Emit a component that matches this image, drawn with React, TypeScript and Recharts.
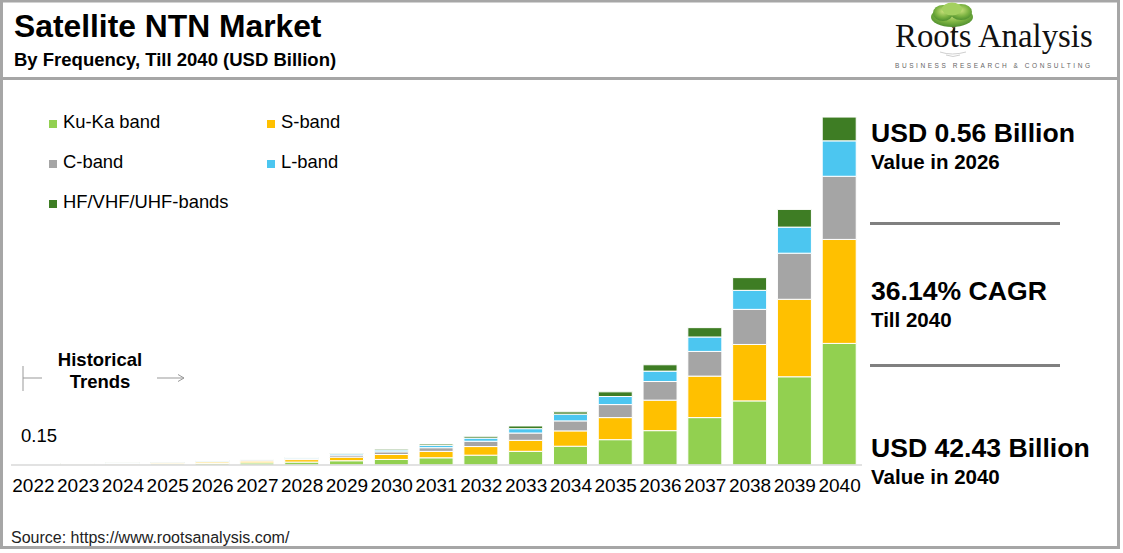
import React from 'react';
import { BarChart, Bar, XAxis, YAxis } from 'recharts';

const years = ['2022', '2023', '2024', '2025', '2026', '2027', '2028', '2029', '2030', '2031', '2032', '2033', '2034', '2035', '2036', '2037', '2038', '2039', '2040'];
const kuKa = [0.05, 0.07, 0.09, 0.13, 0.2, 0.26, 0.36, 0.52, 0.68, 0.88, 1.2, 1.67, 2.29, 3.09, 4.19, 5.78, 7.82, 10.76, 14.83];
const sBand = [0.045, 0.06, 0.08, 0.11, 0.17, 0.22, 0.3, 0.44, 0.6, 0.78, 1.05, 1.34, 1.87, 2.69, 3.72, 5.06, 6.88, 9.45, 12.68];
const cBand = [0.03, 0.04, 0.05, 0.07, 0.1, 0.13, 0.17, 0.25, 0.33, 0.45, 0.65, 0.89, 1.22, 1.59, 2.27, 3.01, 4.28, 5.62, 7.7];
const lBand = [0.015, 0.02, 0.03, 0.04, 0.06, 0.07, 0.1, 0.16, 0.22, 0.28, 0.38, 0.53, 0.82, 0.98, 1.27, 1.76, 2.32, 3.18, 4.32];
const hfBands = [0.01, 0.01, 0.02, 0.02, 0.03, 0.04, 0.05, 0.08, 0.12, 0.17, 0.22, 0.33, 0.28, 0.57, 0.77, 1.14, 1.55, 2.16, 2.9];

const seriesKeys = ['kuKa', 'sBand', 'cBand', 'lBand', 'hfBands'];
const seriesNames = ['Ku-Ka band', 'S-band', 'C-band', 'L-band', 'HF/VHF/UHF-bands'];
const seriesColors = ['#92D050', '#FFC000', '#A5A5A5', '#4CC6F0', '#3E7D24'];

const firstValueLabel = '0.15';
const title = 'Satellite NTN Market';
const subtitle = 'By Frequency, Till 2040 (USD Billion)';
const highlights = [
  { big: 'USD 0.56 Billion', small: 'Value in 2026' },
  { big: '36.14% CAGR', small: 'Till 2040' },
  { big: 'USD 42.43 Billion', small: 'Value in 2040' },
];

const data = years.map((year, i) => ({
  year,
  kuKa: kuKa[i],
  sBand: sBand[i],
  cBand: cBand[i],
  lBand: lBand[i],
  hfBands: hfBands[i],
}));

const FONT = '"Liberation Sans", Arial, sans-serif';

const legendOrder = [0, 1, 2, 3, 4];
const legendPos = [
  { x: 49, y: 128 },
  { x: 267, y: 128 },
  { x: 49, y: 168 },
  { x: 267, y: 168 },
  { x: 49, y: 208 },
];

const highlightY = [141.5, 300, 457];

function Decorations() {
  return (
    <svg width={1123} height={553} style={{ position: 'absolute', left: 0, top: 0 }}>
      <defs>
        <radialGradient id="canopy" cx="50%" cy="40%" r="60%">
          <stop offset="0%" stopColor="#c8e07a" />
          <stop offset="60%" stopColor="#7cb342" />
          <stop offset="100%" stopColor="#4f8f2f" />
        </radialGradient>
      </defs>
      <rect x={0} y={0} width={1123} height={553} fill="#fff" />
      <rect x={1.5} y={1} width={1117} height={546.5} fill="none" stroke="#a6a6a6" strokeWidth={3} />
      <line x1={0} y1={78.5} x2={1120} y2={78.5} stroke="#a6a6a6" strokeWidth={3} />

      <text x={14} y={37} fontFamily={FONT} fontWeight="bold" fontSize={31.8} fill="#000">{title}</text>
      <text x={14} y={66} fontFamily={FONT} fontWeight="bold" fontSize={18.5} fill="#000">{subtitle}</text>

      <g>
        <path d="M953 40 C954 33 955 28 954 22 M954 28 L947 21 M955 26 L962 20" stroke="#6d5a3a" strokeWidth={2} fill="none" />
        <ellipse cx={952} cy={17} rx={21} ry={10} fill="url(#canopy)" />
        <ellipse cx={943} cy={13} rx={10} ry={8} fill="url(#canopy)" />
        <ellipse cx={961} cy={12} rx={11} ry={8} fill="url(#canopy)" />
        <ellipse cx={952} cy={9} rx={10} ry={6.5} fill="#a4d060" />
        <path d="M940 52 Q952 56 966 52 M946 55 Q953 58 960 55" stroke="#cfcfcf" strokeWidth={1} fill="none" />
      </g>
      <text x={895} y={47} fontFamily='"Liberation Serif", "Times New Roman", serif' fontSize={32.8} fill="#111">Roots Analysis</text>
      <text x={895} y={68} fontFamily={FONT} fontSize={6.5} fill="#666" textLength={195} lengthAdjust="spacing">BUSINESS RESEARCH &amp; CONSULTING</text>

      {legendOrder.map((si, k) => (
        <g key={si}>
          <rect x={legendPos[k].x} y={legendPos[k].y - 8} width={8} height={8} fill={seriesColors[si]} />
          <text x={legendPos[k].x + 14} y={legendPos[k].y} fontFamily={FONT} fontSize={18.4} fill="#000">{seriesNames[si]}</text>
        </g>
      ))}

      <text x={100} y={366} textAnchor="middle" fontFamily={FONT} fontWeight="bold" fontSize={18.5} fill="#000">Historical</text>
      <text x={100} y={388} textAnchor="middle" fontFamily={FONT} fontWeight="bold" fontSize={18.5} fill="#000">Trends</text>
      <line x1={23} y1={366} x2={23} y2={391} stroke="#999" strokeWidth={1} />
      <line x1={23} y1={378} x2={42} y2={378} stroke="#999" strokeWidth={1} />
      <line x1={157} y1={378} x2={184} y2={378} stroke="#999" strokeWidth={1} />
      <path d="M178 374.5 L184 378 L178 381.5" stroke="#999" strokeWidth={1} fill="none" />

      <text x={21} y={442} fontFamily={FONT} fontSize={18.5} fill="#000">{firstValueLabel}</text>

      {highlights.map((h, i) => (
        <g key={i}>
          <text x={871} y={highlightY[i]} fontFamily={FONT} fontWeight="bold" fontSize={26.6} fill="#000">{h.big}</text>
          <text x={871} y={highlightY[i] + 27} fontFamily={FONT} fontWeight="bold" fontSize={20.5} fill="#000">{h.small}</text>
        </g>
      ))}
      <line x1={870} y1={223.5} x2={1060} y2={223.5} stroke="#808080" strokeWidth={3} />
      <line x1={870} y1={365.5} x2={1060} y2={365.5} stroke="#808080" strokeWidth={3} />

      <text x={11} y={543} fontFamily={FONT} fontSize={16} fill="#222">Source: https://www.rootsanalysis.com/</text>
    </svg>
  );
}

export default function App() {
  return (
    <div style={{ position: 'absolute', left: 0, top: 0, width: 1123, height: 553, background: '#fff', fontFamily: FONT, overflow: 'hidden' }}>
      <Decorations />
      <div style={{ position: 'absolute', left: 0, top: 0 }}>
        <BarChart
          width={1123}
          height={553}
          data={data}
          margin={{ top: 96, right: 261, bottom: 58, left: 11 }}
          barSize={34}
        >
          <XAxis
            dataKey="year"
            interval={0}
            height={30}
            tickLine={false}
            tickSize={0}
            tickMargin={14}
            axisLine={{ stroke: '#d9d9d9', strokeWidth: 1.5 }}
            tick={{ fontSize: 19, fill: '#000', fontFamily: FONT }}
          />
          <YAxis hide width={0} domain={[0, 45]} />
          {seriesKeys.map((k, i) => (
            <Bar
              key={k}
              dataKey={k}
              name={seriesNames[i]}
              stackId="a"
              fill={seriesColors[i]}
              stroke="#ffffff"
              strokeWidth={1}
              isAnimationActive={false}
            />
          ))}
        </BarChart>
      </div>
    </div>
  );
}
